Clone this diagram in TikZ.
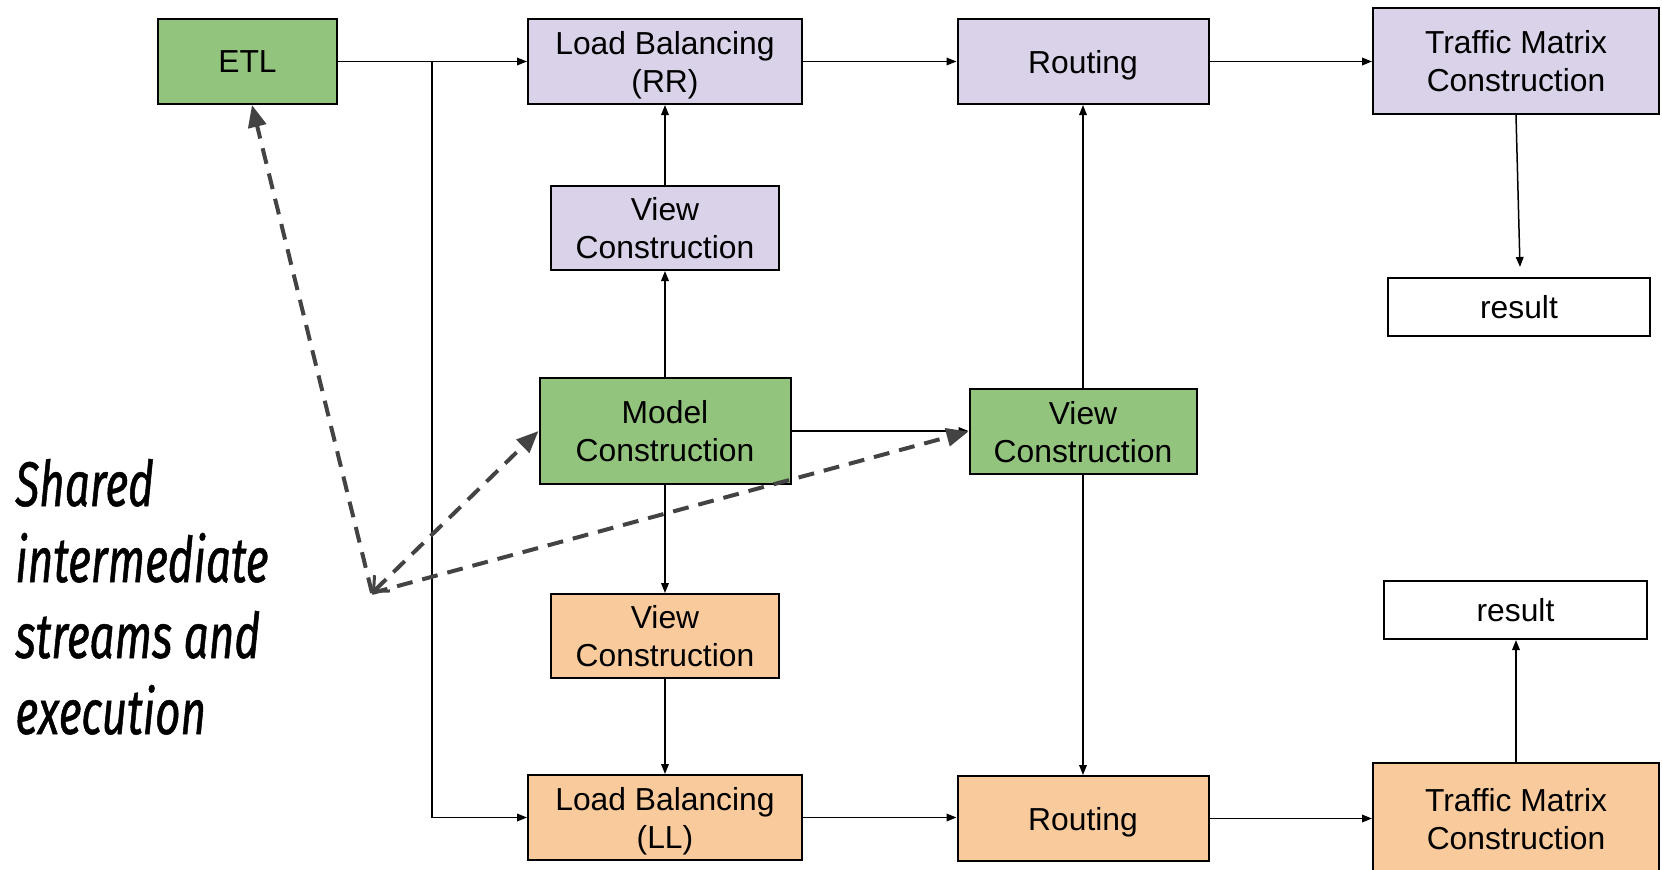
\documentclass[tikz,border=0pt]{standalone}
\usepackage{fontspec}
\setmainfont{Liberation Sans}
\newfontfamily\notefont[FakeStretch=0.7,FakeBold=0.8]{Fira Sans}
\usetikzlibrary{arrows.meta,calc}
\definecolor{grn}{HTML}{93C47D}
\definecolor{lav}{HTML}{D9D2E9}
\definecolor{org}{HTML}{F9CB9C}
\definecolor{dgray}{HTML}{434343}

\begin{document}
\begin{tikzpicture}[x=0.5pt,y=-0.5pt,
  box/.style={draw=black,line width=1pt,inner sep=0pt,align=center,text depth=0pt,
    font=\fontsize{15.9}{19}\selectfont},
  sz/.style 2 args={minimum width={#1*0.5pt},minimum height={#2*0.5pt}},
  wire/.style={draw=black,line width=0.75pt,-{Triangle[length=5pt,width=3.8pt]}},
  shared/.style={draw=dgray,line width=2pt,dash pattern=on 8pt off 5pt},
  bighead/.style={-{Triangle[length=11pt,width=9pt]}}
]
\useasboundingbox (0,0) rectangle (1662,869);

% boxes of the RR pipeline (top row)
\node[box,fill=grn,sz={179}{85}] (etl) at (247.5,61.5) {ETL};
\node[box,fill=lav,sz={274}{85}] (lbrr) at (665,61.5) {Load Balancing\\(RR)};
\node[box,fill=lav,sz={251}{85}] (rtop) at (1083,61.5) {Routing};
\node[box,fill=lav,sz={286}{106}] (tmtop) at (1516,61) {Traffic Matrix\\Construction};
\node[box,fill=white,sz={262}{58}] (restop) at (1519,307) {result};
\node[box,fill=lav,sz={228}{84}] (vrr) at (665,228) {View\\Construction};

% shared middle stage
\node[box,fill=grn,sz={251}{106}] (model) at (665,431) {Model\\Construction};
\node[box,fill=grn,sz={227}{85}] (vg) at (1083,431.5) {View\\Construction};

% boxes of the LL pipeline (bottom row)
\node[box,fill=org,sz={228}{84}] (vor) at (665,636) {View\\Construction};
\node[box,fill=white,sz={263}{58}] (resbot) at (1515.5,610) {result};
\node[box,fill=org,sz={274}{85}] (lbll) at (665,817.5) {Load Balancing\\(LL)};
\node[box,fill=org,sz={251}{85}] (rbot) at (1083,818.5) {Routing};
\node[box,fill=org,sz={286}{112}] (tmbot) at (1516,819) {Traffic Matrix\\Construction};

% solid data-flow connectors
\coordinate (split) at (432,61.5);
\coordinate (restopin) at (1520,267);
\draw[wire] (etl.east) -- (lbrr.west);
\draw[wire] (split) |- (lbll.west);
\draw[wire] (lbrr) -- (rtop);
\draw[wire] (rtop.east) -- (rtop.east -| tmtop.west);
\draw[wire] (tmtop.south) -- (restopin);
\draw[wire] (vrr) -- (lbrr);
\draw[wire] (model) -- (vrr);
\draw[wire] (model) -- (vor);
\draw[wire] (vor) -- (lbll);
\draw[wire] (model.east) -- (model.east -| vg.west);
\draw[wire] (vg) -- (rtop);
\draw[wire] (vg) -- (rbot);
\draw[wire] (lbll.east) -- (lbll.east -| rbot.west);
\draw[wire] (rbot.east) -- (rbot.east -| tmbot.west);
\draw[wire] (tmbot.north) -- (tmbot.north |- resbot.south);

% dashed pointers from the annotation
\coordinate (hub) at (372,593);
\draw[shared,bighead] (hub) -- ([xshift=2.25pt]etl.south);
\draw[shared,{Straight Barb[length=6pt,width=11pt,line width=1.5pt]}-{Triangle[length=11pt,width=9pt]}] (hub) -- (model.west);
\draw[shared,bighead] (hub) -- (vg.west);

\node[anchor=base west,align=left,inner sep=0pt,
  font=\notefont\itshape\fontsize{31.5}{38}\selectfont] (note) at (15,734)
  {Shared\\intermediate\\streams and\\execution};
\end{tikzpicture}
\end{document}
